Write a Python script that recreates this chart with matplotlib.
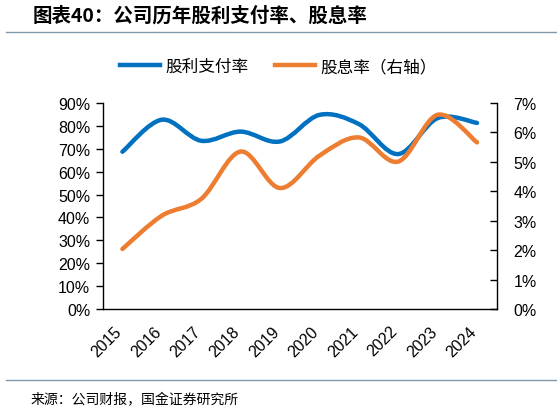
import matplotlib
matplotlib.use("Agg")
import matplotlib.pyplot as plt
from matplotlib.path import Path
from matplotlib.patches import PathPatch
from matplotlib.lines import Line2D
from matplotlib.ticker import FuncFormatter
from matplotlib.transforms import ScaledTranslation

plt.rcParams['font.family'] = ['Liberation Sans', 'Noto Sans CJK SC', 'DejaVu Sans']

years = ['2015', '2016', '2017', '2018', '2019', '2020', '2021', '2022', '2023', '2024']
payout = [68.7, 82.7, 73.5, 77.5, 73.2, 84.8, 80.8, 67.7, 83.4, 81.3]   # 股利支付率 %
div_yield = [2.04, 3.17, 3.74, 5.35, 4.11, 5.21, 5.83, 5.01, 6.60, 5.66]  # 股息率 %

blue = '#0070C0'
orange = '#ED7D31'
cjk = ['Noto Sans CJK SC', 'DejaVu Sans']


def smooth_path(xs, ys):
    # Excel style smoothed line: bezier segments through each point
    verts = [(xs[0], ys[0])]
    codes = [Path.MOVETO]
    n = len(xs)
    for i in range(n - 1):
        x0, y0 = xs[max(i - 1, 0)], ys[max(i - 1, 0)]
        x1, y1 = xs[i], ys[i]
        x2, y2 = xs[i + 1], ys[i + 1]
        x3, y3 = xs[min(i + 2, n - 1)], ys[min(i + 2, n - 1)]
        c1 = (x1 + (x2 - x0) / 6, y1 + (y2 - y0) / 6)
        c2 = (x2 - (x3 - x1) / 6, y2 - (y3 - y1) / 6)
        verts += [c1, c2, (x2, y2)]
        codes += [Path.CURVE4] * 3
    return Path(verts, codes)


fig = plt.figure(figsize=(5.57, 4.14), dpi=100)
ax = fig.add_axes([0.1844, 0.2512, 0.7074, 0.4976])
ax2 = ax.twinx()

x = list(range(len(years)))
ax.add_patch(PathPatch(smooth_path(x, payout), facecolor='none', edgecolor=blue,
                       lw=3.2, capstyle='round', zorder=3))
ax2.add_patch(PathPatch(smooth_path(x, div_yield), facecolor='none', edgecolor=orange,
                        lw=3.2, capstyle='round', zorder=3))

ax.set_xlim(-0.5, len(years) - 0.5)
ax.set_ylim(0, 90)
ax2.set_ylim(0, 7)
ax.set_yticks(range(0, 91, 10))
ax2.set_yticks(range(0, 8))
ax.yaxis.set_major_formatter(FuncFormatter(lambda v, p: f'{v:.0f}%'))
ax2.yaxis.set_major_formatter(FuncFormatter(lambda v, p: f'{v:.0f}%'))
ax.set_xticks(x)
ax.set_xticklabels(years, rotation=45, ha='right', va='center', rotation_mode='anchor')

for a in (ax, ax2):
    a.spines['top'].set_visible(False)
    for s in a.spines.values():
        s.set_linewidth(1.0)
        s.set_color('black')
ax.spines['right'].set_visible(False)
ax2.spines['left'].set_visible(False)
ax2.spines['bottom'].set_visible(False)

ax.tick_params(axis='y', direction='out', length=5, width=1, labelsize=11.5, pad=4)
ax.tick_params(axis='x', length=0, labelsize=11.5, pad=14)
ax2.tick_params(axis='y', direction='in', length=5, width=1, labelsize=11.5, pad=12)

shift = ScaledTranslation(-3 / 100, 0, fig.dpi_scale_trans)
for lab in ax.get_xticklabels():
    lab.set_transform(lab.get_transform() + shift)

# legend
handles = [Line2D([], [], color=blue, lw=3.2), Line2D([], [], color=orange, lw=3.2)]
fig.legend(handles, ['股利支付率', '股息率（右轴）'], loc='center', bbox_to_anchor=(0.50, 0.837),
           ncol=2, frameon=False, prop={'family': cjk, 'size': 12},
           handlelength=2.4, columnspacing=1.6, handletextpad=0.3)

# title and source
fig.text(0.058, 0.962, '图表40：公司历年股利支付率、股息率', fontsize=14, fontweight='bold',
         family=cjk, va='center', style='italic')
fig.add_artist(Line2D([0.01, 1.0], [0.92, 0.92], color='#7f99aa', lw=1.0))
fig.add_artist(Line2D([0.01, 1.0], [0.079, 0.079], color='#7f99aa', lw=1.0))
fig.text(0.054, 0.033, '来源：公司财报，国金证券研究所', fontsize=10, family=cjk, va='center')

fig.savefig('out.png', dpi=100)
